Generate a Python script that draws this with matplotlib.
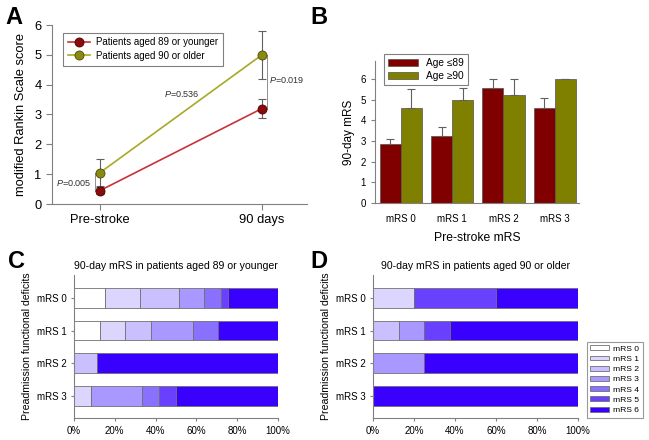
import matplotlib
matplotlib.use("Agg")
import matplotlib.pyplot as plt
import numpy as np

plt.rcParams['font.family'] = ['Liberation Sans', 'DejaVu Sans']
plt.rcParams['mathtext.fontset'] = 'custom'
plt.rcParams['mathtext.it'] = 'Liberation Sans:italic'

# ---------------- Data ----------------
# Panel A
timepoints = ['Pre-stroke', '90 days']
young_mean = [0.45, 3.2]
young_err = [0.13, 0.33]
old_mean = [1.05, 5.0]
old_err = [0.45, 0.8]
p_values = ['0.005', '0.536', '0.019']

# Panel B
prestroke_cats = ['mRS 0', 'mRS 1', 'mRS 2', 'mRS 3']
b_young = [2.88, 3.25, 5.55, 4.6]
b_young_err = [0.2, 0.45, 0.45, 0.5]
b_old = [4.62, 5.0, 5.25, 6.0]
b_old_err = [0.9, 0.57, 0.75, 0.0]

# Panels C and D: percentage of each 90-day mRS level (0..6) per pre-stroke category
mrs_levels = ['mRS 0', 'mRS 1', 'mRS 2', 'mRS 3', 'mRS 4', 'mRS 5', 'mRS 6']
c_pct = {
    'mRS 0': [15.3, 17.0, 19.2, 12.1, 8.5, 3.3, 24.6],
    'mRS 1': [12.5, 12.5, 12.5, 20.8, 12.5, 0.0, 29.2],
    'mRS 2': [0.0, 0.0, 11.1, 0.0, 0.0, 0.0, 88.9],
    'mRS 3': [0.0, 8.3, 0.0, 25.0, 8.3, 8.3, 50.1],
}
d_pct = {
    'mRS 0': [0.0, 20.0, 0.0, 0.0, 0.0, 40.0, 40.0],
    'mRS 1': [0.0, 0.0, 12.5, 12.5, 0.0, 12.5, 62.5],
    'mRS 2': [0.0, 0.0, 0.0, 25.0, 0.0, 0.0, 75.0],
    'mRS 3': [0.0, 0.0, 0.0, 0.0, 0.0, 0.0, 100.0],
}
pct_ticks = [0, 20, 40, 60, 80, 100]

# ---------------- Figure ----------------
W, H = 649, 440
fig = plt.figure(figsize=(W / 100, H / 100), dpi=100)

def ax_px(l, t, r, b):
    return fig.add_axes([l / W, 1 - b / H, (r - l) / W, (b - t) / H])

spine_c = '#808080'

def style(ax):
    for s in ['top', 'right']:
        ax.spines[s].set_visible(False)
    for s in ['left', 'bottom']:
        ax.spines[s].set_color(spine_c)
        ax.spines[s].set_linewidth(0.8)
    ax.tick_params(color=spine_c, width=0.8)

# ---------- Panel A ----------
axA = ax_px(52, 25, 307, 204)
style(axA)
xpos = np.arange(len(timepoints))
red_m, red_l = '#8b0a0a', '#c8323a'
olv_m, olv_l = '#8a8a10', '#a8a828'
axA.errorbar(xpos, young_mean, yerr=young_err, fmt='none', ecolor='#606060',
             elinewidth=0.8, capsize=3, capthick=0.8, zorder=2)
axA.errorbar(xpos, old_mean, yerr=old_err, fmt='none', ecolor='#606060',
             elinewidth=0.8, capsize=3, capthick=0.8, zorder=2)
axA.plot(xpos, young_mean, '-', color=red_l, lw=1.2, marker='o', ms=6.5,
         mfc=red_m, mec='#4a0000', mew=0.6, label='Patients aged 89 or younger', zorder=3)
axA.plot(xpos, old_mean, '-', color=olv_l, lw=1.2, marker='o', ms=6.5,
         mfc=olv_m, mec='#4a4a00', mew=0.6, label='Patients aged 90 or older', zorder=3)
axA.set_xlim(-0.296, 1.278)
axA.set_ylim(0, 6)
axA.set_yticks(range(7))
axA.set_xticks(xpos)
axA.set_xticklabels(timepoints)
axA.tick_params(labelsize=9.3, length=4, direction='out')
axA.set_ylabel('modified Rankin Scale score', fontsize=9.3, labelpad=5)
leg = axA.legend(loc='upper left', bbox_to_anchor=(0.025, 0.985), fontsize=7,
                 frameon=True, fancybox=False, edgecolor='#606060',
                 handlelength=2.3, handletextpad=0.6, borderpad=0.5, labelspacing=0.35)
leg.get_frame().set_linewidth(0.8)
# p-value annotations
ptxt = [r'$\mathit{P}$=' + v for v in p_values]
axA.plot([-0.03, -0.03], [young_mean[0], old_mean[0]], color='#909090', lw=0.7)
axA.text(-0.055, 0.72, ptxt[0], ha='right', va='center', fontsize=6.5, color='#303030')
axA.text(0.506, 3.69, ptxt[1], ha='center', va='center', fontsize=6.5, color='#303030')
axA.plot([1.03, 1.03], [young_mean[1], old_mean[1]], color='#909090', lw=0.7)
axA.text(1.043, 4.16, ptxt[2], ha='left', va='center', fontsize=6.5, color='#303030')
fig.text(5 / W, 1 - 17 / H, 'A', fontsize=17, fontweight='bold', va='center', ha='left')

# ---------- Panel B ----------
axB = ax_px(375, 61, 579, 203)
style(axB)
bx = np.arange(len(prestroke_cats))
bw = 0.41
ekw = dict(ecolor='#606060', elinewidth=0.8, capsize=3, capthick=0.8)
axB.bar(bx - bw / 2, b_young, bw, color='#800000', edgecolor='#505050', lw=0.5,
        yerr=[np.zeros(4), b_young_err], error_kw=ekw, label='Age ≤89')
axB.bar(bx + bw / 2, b_old, bw, color='#808000', edgecolor='#505050', lw=0.5,
        yerr=[np.zeros(4), b_old_err], error_kw=ekw, label='Age ≥90')
axB.set_xlim(-0.5, 3.47)
axB.set_ylim(0, 6.88)
axB.set_yticks(range(7))
axB.set_xticks(bx)
axB.set_xticklabels(prestroke_cats)
axB.tick_params(labelsize=7, length=3)
axB.tick_params(axis='x', length=0, pad=8)
axB.set_ylabel('90-day mRS', fontsize=8.5, labelpad=4)
axB.set_xlabel('Pre-stroke mRS', fontsize=8.7, labelpad=6)
legB = axB.legend(loc='upper left', bbox_to_anchor=(0.02, 1.085), fontsize=7.3,
                  frameon=True, fancybox=False, edgecolor='#606060',
                  handlelength=2.9, handleheight=0.55, borderpad=0.4, labelspacing=0.3)
legB.get_frame().set_linewidth(0.8)
fig.text(310 / W, 1 - 17 / H, 'B', fontsize=17, fontweight='bold', va='center', ha='left')

# ---------- Panels C & D ----------
colors = ['#ffffff', '#dcd6ff', '#cac0ff', '#a898ff', '#8a70ff', '#6a40ff', '#3a00ff']

def stacked(ax, pct, title):
    style(ax)
    cats = list(pct.keys())
    y = np.arange(len(cats))
    left = np.zeros(len(cats))
    for k in range(len(mrs_levels)):
        vals = np.array([pct[c][k] for c in cats])
        ax.barh(y, vals, 0.6, left=left, color=colors[k], edgecolor='#707070', lw=0.6,
                label=mrs_levels[k])
        left += vals
    ax.set_ylim(3.68, -0.7)
    ax.set_xlim(0, 100)
    ax.set_yticks(y)
    ax.set_yticklabels(cats)
    ax.set_xticks(pct_ticks)
    ax.set_xticklabels([f'{t}%' for t in pct_ticks])
    ax.tick_params(labelsize=7, length=2)
    ax.set_ylabel('Preadmission functional deficits', fontsize=7.6, labelpad=3)
    ax.set_title(title, fontsize=7.6, pad=4)

axC = ax_px(74, 275, 278, 418)
stacked(axC, c_pct, '90-day mRS in patients aged 89 or younger')
fig.text(8 / W, 1 - 261 / H, 'C', fontsize=17, fontweight='bold', va='center', ha='left')

axD = ax_px(373, 275, 578, 418)
stacked(axD, d_pct, '90-day mRS in patients aged 90 or older')
fig.text(310 / W, 1 - 261 / H, 'D', fontsize=17, fontweight='bold', va='center', ha='left')

handles, labels = axD.get_legend_handles_labels()
legD = fig.legend(handles, labels, loc='upper left',
                  bbox_to_anchor=(587 / W, 1 - 342 / H), fontsize=6.1,
                  frameon=True, fancybox=False, edgecolor='#808080',
                  handlelength=2.2, handleheight=0.5, borderpad=0.4,
                  labelspacing=0.33, handletextpad=0.5, borderaxespad=0)
legD.get_frame().set_linewidth(0.8)

fig.savefig('out.png', dpi=100)
